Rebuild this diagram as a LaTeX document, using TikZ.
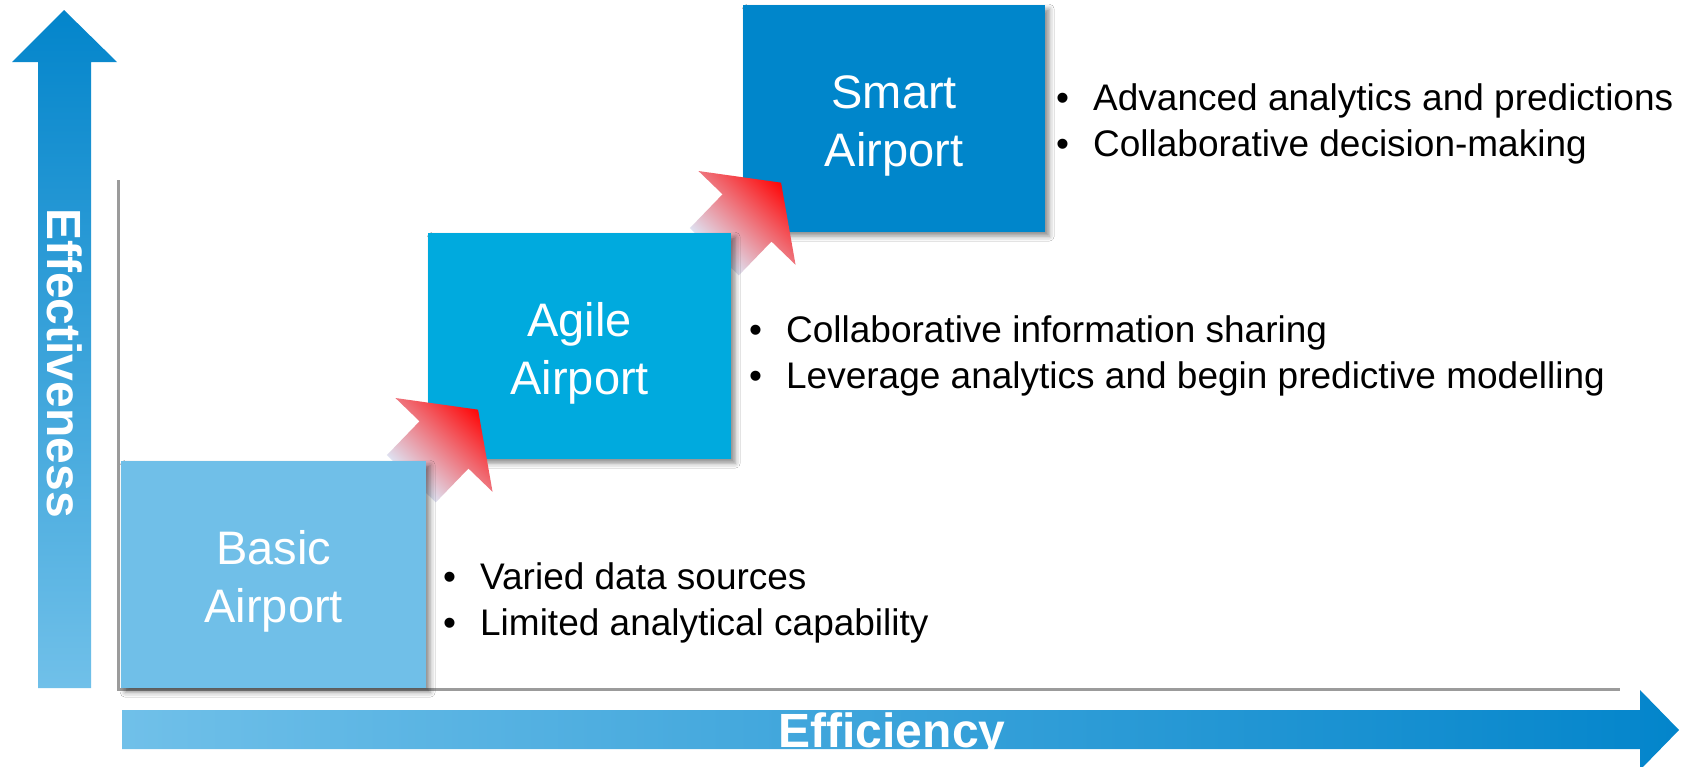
\documentclass[tikz,border=0pt]{standalone}
\usepackage{fontspec}
\setmainfont{Liberation Sans}
\usetikzlibrary{calc,shadows.blur}

\definecolor{basicblue}{RGB}{112,191,232}
\definecolor{agileblue}{RGB}{0,170,222}
\definecolor{smartblue}{RGB}{0,134,203}
\definecolor{axisdark}{RGB}{3,133,203}
\definecolor{axislight}{RGB}{112,192,233}
\definecolor{axisgray}{RGB}{155,155,155}
\definecolor{tipred}{RGB}{255,0,0}
\definecolor{tailpale}{RGB}{222,228,244}

% pale tail fading into a red tip
\pgfdeclareverticalshading{stepfade}{100bp}{%
  color(0bp)=(tailpale); color(30bp)=(tailpale);
  color(78bp)=(tipred); color(100bp)=(tipred)}

% bullet followed by a fixed gap before the item text
\newcommand{\notebullet}{\makebox[37pt][l]{•}}

% block arrow between two stages; #1 is the middle of the head base
\newcommand{\stagearrow}[1]{%
  \path[stepshade]
    ($(#1)+(136:34)+(226:47)$) -- ($(#1)+(136:34)$) -- ($(#1)+(136:67.5)$)
    -- ($(#1)+(46:49)$) -- ($(#1)+(-44:67.5)$) -- ($(#1)+(-44:34)$)
    -- ($(#1)+(-44:34)+(226:47)$) -- cycle;}

\begin{document}
\begin{tikzpicture}[x=1pt,y=1pt,
  stagebox/.style={draw=none, inner sep=0pt, anchor=north west,
    minimum height=227pt,
    blur shadow={shadow xshift=4pt, shadow yshift=-4pt,
      shadow blur radius=5pt, shadow opacity=45}},
  stagelabel/.style={inner sep=0pt, text=white, align=center,
    font=\fontsize{47}{58}\selectfont, yshift=-7pt},
  stepshade/.style={shading=stepfade, shading angle=-44},
  axislabel/.style={inner sep=0pt, text=white,
    font=\fontsize{48}{58}\selectfont\bfseries},
  note/.style={inner sep=0pt, anchor=base west, text=black,
    font=\fontsize{37}{46}\selectfont},
  axisline/.style={draw=axisgray, line width=3pt}]

\useasboundingbox (0,0) rectangle (1683,-766);
\fill[white] (0,0) rectangle (1683,-766);

% axes
\coordinate (ytop) at (118.5,-180);
\coordinate (origin) at (118.5,-689);
\coordinate (xend) at (1620,-689);
\draw[axisline] (ytop) -- (origin) -- (xend);

% effectiveness arrow (vertical)
\path[top color=axisdark, bottom color=axislight]
  (38,-688) -- (38,-62) -- (12,-62) -- (64,-10) -- (117,-62)
  -- (91,-62) -- (91,-688) -- cycle;
\node[axislabel, rotate=-90, anchor=base] (effectlabel) at (47,-363) {Effectiveness};

% efficiency arrow (horizontal)
\path[left color=axislight, right color=axisdark]
  (122,-710) -- (1640,-710) -- (1640,-690) -- (1679,-730) -- (1640,-770)
  -- (1640,-749) -- (122,-749) -- cycle;
\node[axislabel, anchor=base] (efflabel) at (892,-747) {Efficiency};

% stages, back to front
\node[stagebox, fill=smartblue, minimum width=302pt,
  label={[stagelabel]center:{Smart\\Airport}}] (smart) at (743,-5) {};
\stagearrow{$(smart.south west)+(4,14.5)$}
\node[stagebox, fill=agileblue, minimum width=303pt, minimum height=226pt,
  label={[stagelabel]center:{Agile\\Airport}}] (agile) at (428,-233) {};
\stagearrow{$(agile.south west)+(16,14.5)$}
\node[stagebox, fill=basicblue, minimum width=305pt,
  label={[stagelabel]center:{Basic\\Airport}}] (basic) at (121,-461) {};

% notes beside each stage
\node[note] (basic1) at (443,-589) {\notebullet Varied data sources};
\node[note] (basic2) at (443,-635) {\notebullet Limited analytical capability};
\node[note] (agile1) at (749,-342) {\notebullet Collaborative information sharing};
\node[note] (agile2) at (749,-388) {\notebullet Leverage analytics and begin predictive modelling};
\node[note] (smart1) at (1056,-110) {\notebullet Advanced analytics and predictions};
\node[note] (smart2) at (1056,-156) {\notebullet Collaborative decision-making};
\end{tikzpicture}
\end{document}
